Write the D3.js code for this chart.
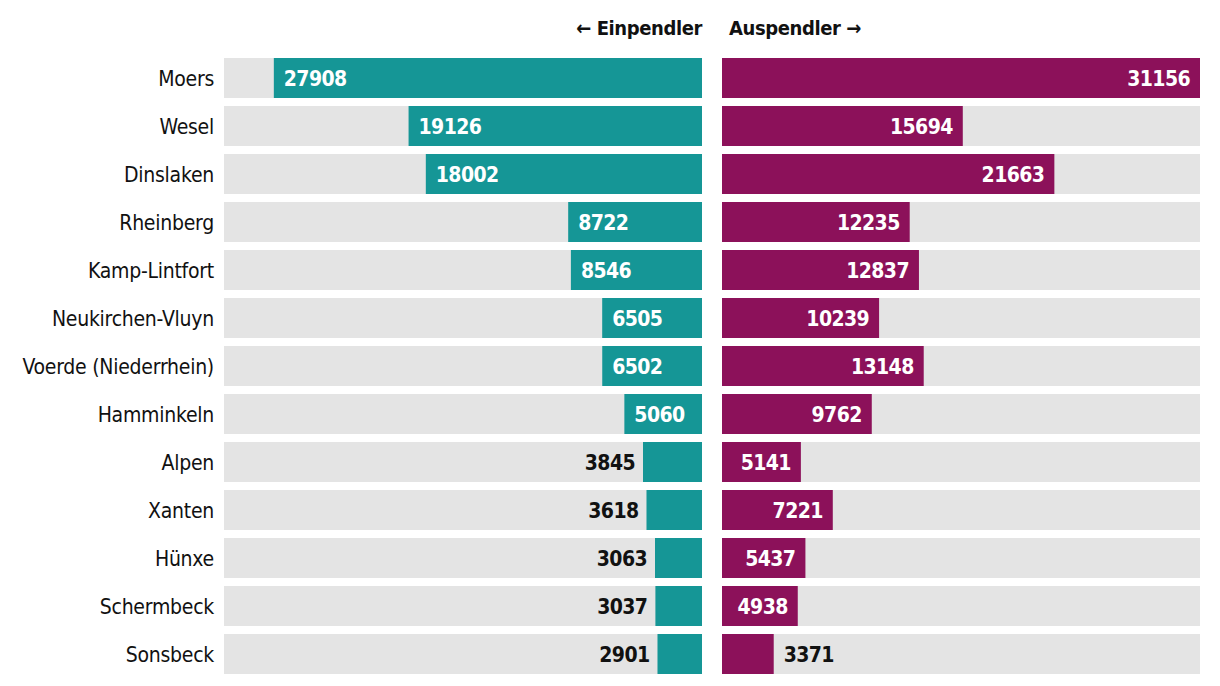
<!DOCTYPE html>
<html><head><meta charset="utf-8">
<script src="https://cdn.jsdelivr.net/npm/d3@7"></script>
<style>
body{margin:0;background:#fff;}
text{font-family:"Liberation Sans Narrow","DejaVu Sans Condensed","Roboto",sans-serif;}
</style></head><body>
<svg id="c" width="1220" height="686"></svg>
<script>
const categories = ["Moers","Wesel","Dinslaken","Rheinberg","Kamp-Lintfort","Neukirchen-Vluyn","Voerde (Niederrhein)","Hamminkeln","Alpen","Xanten","Hünxe","Schermbeck","Sonsbeck"];
const einpendler = [27908,19126,18002,8722,8546,6505,6502,5060,3845,3618,3063,3037,2901];
const auspendler = [31156,15694,21663,12235,12837,10239,13148,9762,5141,7221,5437,4938,3371];
const headers = ["← Einpendler","Auspendler →"];

const svg = d3.select("#c");
const leftX0 = 224, leftX1 = 702, rightX0 = 722, rightX1 = 1200;
const maxV = d3.max([...einpendler, ...auspendler]);
const wL = d3.scaleLinear().domain([0,maxV]).range([0, leftX1-leftX0]);
const wR = d3.scaleLinear().domain([0,maxV]).range([0, rightX1-rightX0]);
const yb = d3.scaleBand().domain(categories).range([58, 58+48*13-8]).paddingInner(8/48);
const teal = "#159696", mag = "#8c115a", grey = "#e4e4e4";
const thr = 4000;

const g = svg.append("g");
const rows = g.selectAll("g.row").data(categories).join("g").attr("class","row")
  .attr("transform", d => `translate(0,${yb(d)})`);
const bh = yb.bandwidth();

rows.append("text").attr("x",214).attr("y",bh/2).attr("dy","0.36em").attr("text-anchor","end")
  .attr("font-size",21).attr("letter-spacing","-0.25px").attr("fill","#111").text(d=>d);

rows.append("rect").attr("x",leftX0).attr("width",leftX1-leftX0).attr("height",bh).attr("fill",grey);
rows.append("rect").attr("x",rightX0).attr("width",rightX1-rightX0).attr("height",bh).attr("fill",grey);

rows.append("rect").attr("x",(d,i)=>leftX1-wL(einpendler[i])).attr("width",(d,i)=>wL(einpendler[i])).attr("height",bh).attr("fill",teal);
rows.append("rect").attr("x",rightX0).attr("width",(d,i)=>wR(auspendler[i])).attr("height",bh).attr("fill",mag);

rows.append("text").attr("y",bh/2).attr("dy","0.37em").attr("font-size",21).attr("font-weight","bold").attr("letter-spacing","-0.6px")
  .each(function(d,i){
    const v=einpendler[i], x0=leftX1-wL(v), inside=v>=thr;
    d3.select(this).attr("x", inside? x0+10 : x0-8).attr("text-anchor", inside?"start":"end")
      .attr("fill", inside?"#fff":"#111").text(v);
  });
rows.append("text").attr("y",bh/2).attr("dy","0.37em").attr("font-size",21).attr("font-weight","bold").attr("letter-spacing","-0.6px")
  .each(function(d,i){
    const v=auspendler[i], x1=rightX0+wR(v), inside=v>=thr;
    d3.select(this).attr("x", inside? x1-10 : x1+10).attr("text-anchor", inside?"end":"start")
      .attr("fill", inside?"#fff":"#111").text(v);
  });

svg.append("text").attr("x",702).attr("y",28).attr("dy","0.35em").attr("text-anchor","end")
  .attr("font-size",20).attr("font-weight","bold").attr("letter-spacing","-0.4px").attr("fill","#111").text(headers[0]);
svg.append("text").attr("x",729).attr("y",28).attr("dy","0.35em").attr("text-anchor","start")
  .attr("font-size",20).attr("font-weight","bold").attr("letter-spacing","-0.4px").attr("fill","#111").text(headers[1]);
</script></body></html>
